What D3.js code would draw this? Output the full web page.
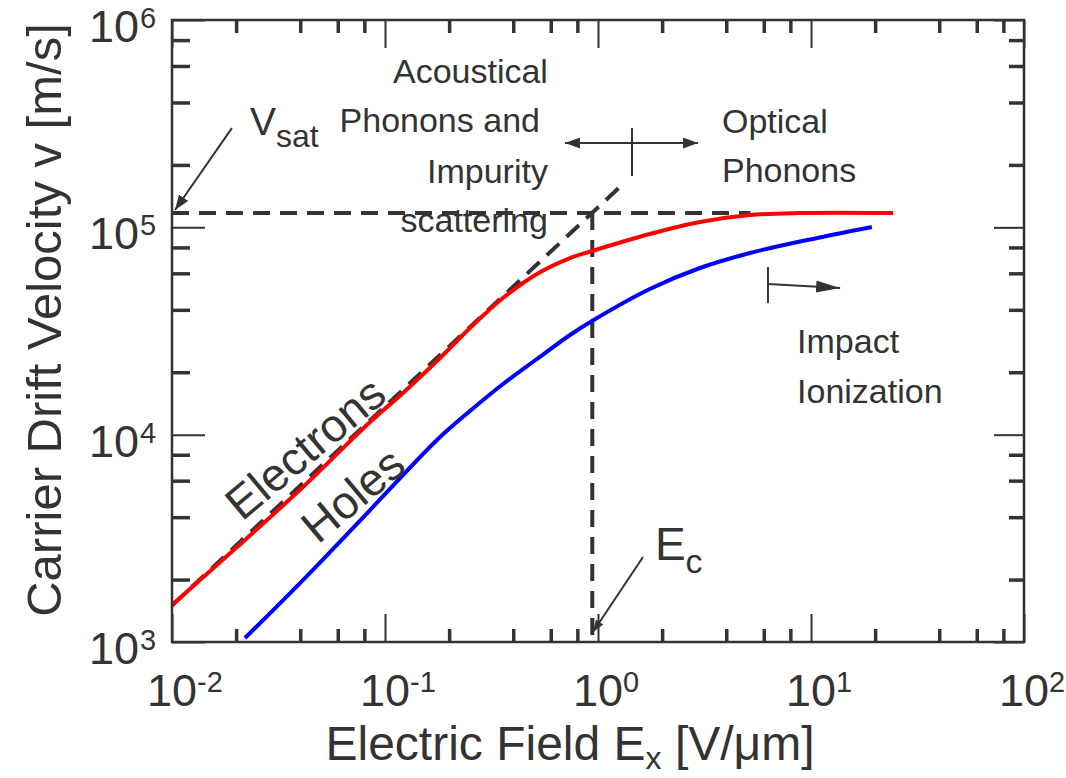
<!DOCTYPE html>
<html>
<head>
<meta charset="utf-8">
<script src="https://cdn.jsdelivr.net/npm/d3@7"></script>
<style>
  body { margin: 0; background: #fff; }
  svg { display: block; }
  text { font-family: "Liberation Sans", Arial, sans-serif; fill: #333; }
</style>
</head>
<body>
<div id="chart"></div>
<script>
// ---- data (E in V/um, v in m/s) ----
var electronsE = [0.01, 0.0202, 0.0412, 0.0851, 0.1215, 0.1754, 0.2506, 0.358, 0.517, 0.739, 0.937, 1.75, 3.01, 5.17, 8.88, 24.3];
var electronsV = [1510, 2870, 5590, 11500, 15900, 22650, 32700, 45600, 59600, 71100, 76900, 92900, 106100, 114700, 117200, 117200];

var holesE = [0.022, 0.0412, 0.0851, 0.1754, 0.2506, 0.358, 0.517, 0.739, 0.937, 1.75, 3.01, 5.17, 10.7, 19.3];
var holesV = [1045, 1990, 4330, 9430, 13010, 17560, 23170, 30250, 35340, 50420, 63660, 75200, 88900, 100400];

var vSat = 117200;          // saturation velocity (horizontal dashed)
var eCrit = 0.94;           // critical field (vertical dashed)
var ohmicE = [0.01, 1.27];  // low-field linear asymptote
var ohmicV = [1500, 157000];

var xDecades = [1e-2, 1e-1, 1e0, 1e1, 1e2];
var yDecades = [1e3, 1e4, 1e5, 1e6];
var minorSteps = [2, 4, 6, 8];

// annotation anchors, in data coordinates
var notes = [
  {E: 0.582, v: 497000, t: "Acoustical", anchor: "end"},
  {E: 0.534, v: 288000, t: "Phonons and", anchor: "end"},
  {E: 0.582, v: 163600, t: "Impurity", anchor: "end"},
  {E: 0.582, v: 95000, t: "scattering", anchor: "end"},
  {E: 3.82, v: 285000, t: "Optical", anchor: "start"},
  {E: 3.82, v: 165400, t: "Phonons", anchor: "start"},
  {E: 8.6, v: 24800, t: "Impact", anchor: "start"},
  {E: 8.6, v: 14200, t: "Ionization", anchor: "start"}
];
var curveLabels = [
  {E: 0.02131, v: 3790, t: "Electrons"},
  {E: 0.04845, v: 2940, t: "Holes"}
];
var vsatArrow = [[0.0191, 301000], [0.01033, 121200]];
var ecArrow = [[1.627, 2570], [0.947, 1117]];
var regionArrow = [[0.70, 255000], [2.95, 255000]];
var regionTick = [[1.444, 301000], [1.444, 176800]];
var impactBar = [[6.28, 64400], [6.28, 43200]];
var impactArrow = [[6.28, 53300], [13.7, 51000]];

// ---- layout ----
var W = 1066, H = 778;
var margin = {top: 20, right: 42, bottom: 136, left: 172};
var width = W - margin.left - margin.right,
    height = H - margin.top - margin.bottom;

var svg = d3.select("#chart").append("svg")
    .attr("width", W)
    .attr("height", H);

var defs = svg.append("defs");
function marker(id, len, wid) {
  defs.append("marker")
      .attr("id", id)
      .attr("markerUnits", "userSpaceOnUse")
      .attr("viewBox", "0 0 " + len + " " + wid)
      .attr("markerWidth", len)
      .attr("markerHeight", wid)
      .attr("refX", len)
      .attr("refY", wid / 2)
      .attr("orient", "auto-start-reverse")
    .append("path")
      .attr("d", "M0,0L" + len + "," + (wid / 2) + "L0," + wid + "Z")
      .attr("fill", "#333");
}
marker("head", 15, 11);
marker("headBig", 24, 12);
marker("headSmall", 12, 9);

var x = d3.scaleLog().domain([1e-2, 1e2]).range([0, width]);
var y = d3.scaleLog().domain([1e3, 1e6]).range([height, 0]);

var g = svg.append("g")
    .attr("transform", "translate(" + margin.left + "," + margin.top + ")");

var minorX = [], minorY = [];
xDecades.slice(0, -1).forEach(function(d) { minorSteps.forEach(function(m) { minorX.push(d * m); }); });
yDecades.slice(0, -1).forEach(function(d) { minorSteps.forEach(function(m) { minorY.push(d * m); }); });

// ---- dashed guides ----
var line = d3.line()
    .x(function(d) { return x(d[0]); })
    .y(function(d) { return y(d[1]); });

function dashed(pts) {
  g.append("path")
      .attr("d", line(pts))
      .attr("fill", "none")
      .attr("stroke", "#333")
      .attr("stroke-width", 4)
      .attr("stroke-dasharray", "17,10");
}
dashed([[1e-2, vSat], [5.2, vSat]]);
dashed([[eCrit, vSat], [eCrit, 1e3]]);
dashed(ohmicE.map(function(e, i) { return [e, ohmicV[i]]; }));

// ---- curves ----
var curve = d3.line()
    .curve(d3.curveCatmullRom.alpha(0.5))
    .x(function(d) { return x(d[0]); })
    .y(function(d) { return y(d[1]); });

g.append("path")
    .datum(holesE.map(function(e, i) { return [e, holesV[i]]; }))
    .attr("d", curve)
    .attr("fill", "none")
    .attr("stroke", "#0000ff")
    .attr("stroke-width", 4);

g.append("path")
    .datum(electronsE.map(function(e, i) { return [e, electronsV[i]]; }))
    .attr("d", curve)
    .attr("fill", "none")
    .attr("stroke", "#ff0000")
    .attr("stroke-width", 4);

// ---- frame + inward ticks on all four sides ----
function ticks(axis, vals, size, sw, tr) {
  var a = g.append("g")
      .attr("transform", tr || null)
      .call(axis.tickValues(vals).tickSize(-size).tickFormat(""));
  a.select(".domain").remove();
  a.selectAll(".tick line").attr("stroke", "#333").attr("stroke-width", sw);
}
ticks(d3.axisBottom(x), minorX, 13, 3.5, "translate(0," + height + ")");
ticks(d3.axisBottom(x), xDecades, 28, 2, "translate(0," + height + ")");
ticks(d3.axisTop(x), minorX, 13, 3.5);
ticks(d3.axisTop(x), xDecades, 28, 2);
ticks(d3.axisLeft(y), minorY, 18, 3.5);
ticks(d3.axisLeft(y), yDecades, 33, 2);
ticks(d3.axisRight(y), minorY, 15, 3.5, "translate(" + width + ",0)");
ticks(d3.axisRight(y), yDecades, 30, 2, "translate(" + width + ",0)");

g.append("rect")
    .attr("width", width)
    .attr("height", height)
    .attr("fill", "none")
    .attr("stroke", "#333")
    .attr("stroke-width", 2.5);

// ---- tick labels 10^n ----
xDecades.forEach(function(d) {
  var n = Math.round(Math.log10(d));
  g.append("text").attr("x", x(d)).attr("y", height + 64)
      .attr("text-anchor", "middle").style("font-size", "45px").text("10");
  g.append("text").attr("x", x(d) + 25).attr("y", height + 50)
      .style("font-size", "29px").text(n < 0 ? "-" + (-n) : n);
});
yDecades.forEach(function(d) {
  var n = Math.round(Math.log10(d));
  g.append("text").attr("x", -33).attr("y", y(d) + 22)
      .attr("text-anchor", "end").style("font-size", "45px").text("10");
  g.append("text").attr("x", -32).attr("y", y(d) + 8)
      .style("font-size", "29px").text(n);
});

// ---- axis titles ----
var xt = svg.append("text")
    .attr("x", 570).attr("y", 760)
    .attr("text-anchor", "middle")
    .style("font-size", "48px");
xt.append("tspan").text("Electric Field E");
xt.append("tspan").attr("dy", 9).style("font-size", "32px").text("x");
xt.append("tspan").attr("dy", -9).text(" [V/\u03bcm]");

svg.append("text")
    .attr("transform", "translate(61,320) rotate(-90)")
    .attr("text-anchor", "middle")
    .style("font-size", "49px")
    .text("Carrier Drift Velocity v [m/s]");

// ---- annotations ----
notes.forEach(function(d) {
  g.append("text")
      .attr("x", x(d.E)).attr("y", y(d.v))
      .attr("text-anchor", d.anchor)
      .style("font-size", "34px")
      .text(d.t);
});

curveLabels.forEach(function(d) {
  g.append("text")
      .attr("transform", "translate(" + x(d.E) + "," + y(d.v) + ") rotate(-40)")
      .style("font-size", "46px")
      .text(d.t);
});

var vs = g.append("text").attr("x", x(0.02324)).attr("y", y(279000)).style("font-size", "39px");
vs.append("tspan").text("V");
vs.append("tspan").attr("dy", 12).style("font-size", "32px").text("sat");

var ec = g.append("text").attr("x", x(1.85)).attr("y", y(2490)).style("font-size", "46px");
ec.append("tspan").text("E");
ec.append("tspan").attr("dy", 13).style("font-size", "34px").text("c");

function arrow(pts, head, both) {
  var p = g.append("path")
      .attr("d", line(pts))
      .attr("fill", "none")
      .attr("stroke", "#333")
      .attr("stroke-width", 2);
  if (head) p.attr("marker-end", "url(#" + head + ")");
  if (both) p.attr("marker-start", "url(#" + head + ")");
}
arrow(vsatArrow, "head");
arrow(ecArrow, "headSmall");
arrow(regionArrow, "head", true);
arrow(regionTick);
arrow(impactBar);
arrow(impactArrow, "headBig");
</script>
</body>
</html>
